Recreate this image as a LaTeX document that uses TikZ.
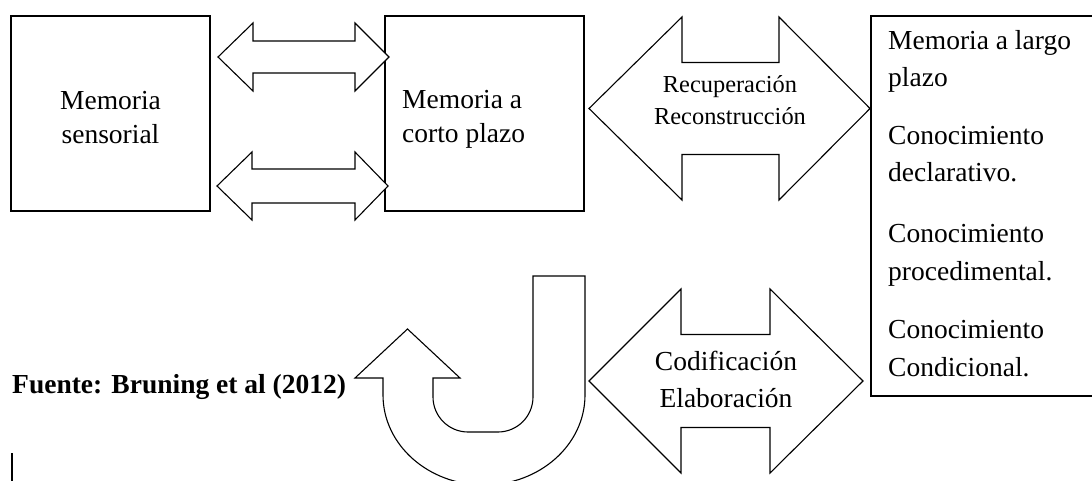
\documentclass[tikz,border=0pt]{standalone}
\usepackage{fontspec}
\setmainfont{Liberation Serif}
\newcommand\bigtxt{\fontsize{27.5}{33}\selectfont}
\newcommand\midtxt{\fontsize{24.4}{29}\selectfont}
\begin{document}
\begin{tikzpicture}[x=1pt,y=-1pt,line join=miter,
  box/.style={draw=black,line width=1.2pt,inner sep=0pt},
  blockarrow/.style={draw=black,line width=1.1pt,fill=white},
  lbl/.style={anchor=base,inner sep=0pt,font=\bigtxt},
  lblw/.style={anchor=base west,inner sep=0pt,font=\bigtxt}]
\useasboundingbox (0,0) rectangle (1092,481);
% boxes
\node[box,minimum width=199pt,minimum height=195pt] (ms) at (110.5,113.5) {};
\node[box,minimum width=199pt,minimum height=195pt] (cp) at (484.5,113.5) {};
\node[box,minimum width=260pt,minimum height=380pt] (lp) at (1001,206) {};
% texts in boxes
\node[lbl] (ms1) at (110.5,110) {Memoria};
\node[lbl] (ms2) at (110.5,144) {sensorial};
\node[lblw] (cp1) at (402,109) {Memoria a};
\node[lblw] (cp2) at (402,143) {corto plazo};
\node[lblw] (lp1) at (888,50) {Memoria a largo};
\node[lblw] (lp2) at (888,87) {plazo};
\node[lblw] (lp3) at (888,145) {Conocimiento};
\node[lblw] (lp4) at (888,182) {declarativo.};
\node[lblw] (lp5) at (888,242) {Conocimiento};
\node[lblw] (lp6) at (888,280) {procedimental.};
\node[lblw] (lp7) at (888,338) {Conocimiento};
\node[lblw] (lp8) at (888,376) {Condicional.};
% double block arrows
\newcommand\dblarrow[7]{%
  \draw[blockarrow] (#1,#5) -- (#2,#5-#6) -- (#2,#5-#7) -- (#3,#5-#7) -- (#3,#5-#6)
    -- (#4,#5) -- (#3,#5+#6) -- (#3,#5+#7) -- (#2,#5+#7) -- (#2,#5+#6) -- cycle;}
\dblarrow{218}{253}{355}{389}{57}{34}{16}
\dblarrow{217}{252}{355}{388}{186}{34}{17}
\dblarrow{589}{682}{779}{870}{108.5}{91.5}{46}
\dblarrow{589}{681}{770}{863}{381}{92}{46.5}
% arrow labels
\node[anchor=base,inner sep=0pt,font=\midtxt] (r1) at (730,93) {Recuperación};
\node[anchor=base,inner sep=0pt,font=\midtxt] (r2) at (730,125) {Reconstrucción};
\node[lbl] (c1) at (726,370) {Codificación};
\node[lbl] (c2) at (726,407) {Elaboración};
% U-turn arrow
\draw[blockarrow] (407.5,329) -- (460,378) -- (433,378) -- (433,397)
  .. controls (433,416.3) and (448.7,432) .. (468,432) -- (498,432)
  .. controls (517.3,432) and (533,416.3) .. (533,397) -- (533,276) -- (585,276) -- (585,395)
  .. controls (585,444.7) and (539.8,485) .. (484,485)
  .. controls (428.2,485) and (383,444.7) .. (383,395) -- (383,378) -- (355,378) -- cycle;
% source
\node[anchor=base west,inner sep=0pt,font=\bigtxt\bfseries] (src) at (12,393) {Fuente: Bruning et al (2012)};
% cursor mark
\coordinate (cur1) at (12,453);
\coordinate (cur2) at (12,481);
\draw[line width=1.3pt] (cur1) -- (cur2);
\end{tikzpicture}
\end{document}
